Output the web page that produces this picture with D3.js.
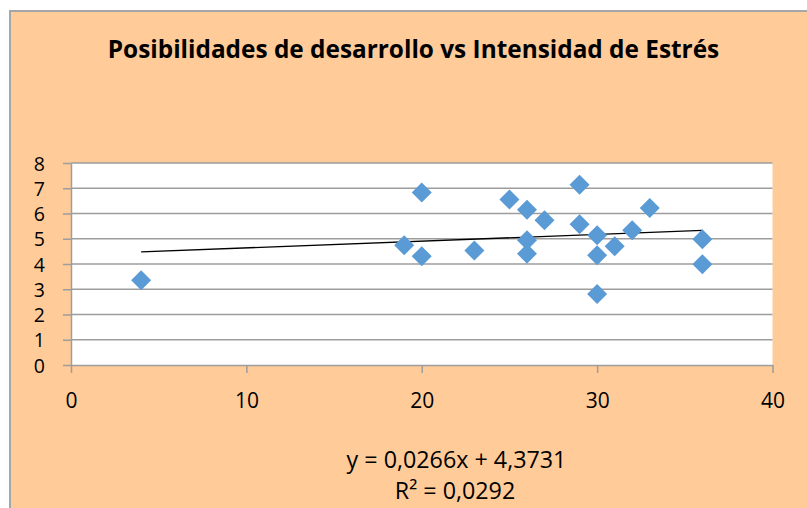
<!DOCTYPE html>
<html>
<head>
<meta charset="utf-8">
<script src="https://cdn.jsdelivr.net/npm/d3@7"></script>
<style>
  html, body { margin: 0; padding: 0; background: #ffffff; }
  svg { display: block; }
  text { font-family: "Open Sans", "Liberation Sans", sans-serif; fill: #000; }
</style>
</head>
<body>
<svg id="chart" width="807" height="508"></svg>
<script>
// ---- data ----
const title = "Posibilidades de desarrollo vs Intensidad de Estrés";
const intensidad = [4, 19, 20, 20, 23, 25, 26, 26, 26, 27, 29, 29, 30, 30, 30, 31, 32, 33, 36, 36];
const posibilidades = [3.36, 4.74, 6.83, 4.31, 4.53, 6.55, 6.15, 4.94, 4.41, 5.73, 7.14, 5.57, 5.14, 4.35, 2.81, 4.70, 5.34, 6.22, 4.98, 3.99];
const xTicks = [0, 10, 20, 30, 40];
const yTicks = [0, 1, 2, 3, 4, 5, 6, 7, 8];
const slope = 0.0266;
const intercept = 4.3731;
const equationText = "y = 0,0266x + 4,3731";
const r2Text = "R² = 0,0292";

const points = intensidad.map((xv, i) => ({ x: xv, y: posibilidades[i] }));

// ---- layout ----
const svg = d3.select("#chart");
const plotLeft = 71, plotRight = 772.5, plotTop = 163, plotBottom = 365;

// chart background and outer border
svg.append("rect")
  .attr("x", 10).attr("y", 11).attr("width", 830).attr("height", 520)
  .attr("fill", "#FFCB99").attr("stroke", "#A6A6A6").attr("stroke-width", 2);

const x = d3.scaleLinear().domain([0, 40]).range([plotLeft, plotRight]);
const y = d3.scaleLinear().domain([0, 8]).range([plotBottom, plotTop]);

// plot area
svg.append("rect")
  .attr("x", plotLeft).attr("y", plotTop).attr("width", plotRight - plotLeft).attr("height", plotBottom - plotTop)
  .attr("fill", "#ffffff");

// gridlines
svg.append("g").selectAll("line").data(yTicks.filter(d => d > 0)).join("line")
  .attr("x1", plotLeft).attr("x2", plotRight)
  .attr("y1", d => y(d)).attr("y2", d => y(d))
  .attr("stroke", "#9D9D9D").attr("stroke-width", 1.5);

// axes
const tickFont = "Liberation Sans";
const yFontSize = 19.5;
const xFontSize = 21;
const yAxis = svg.append("g").attr("transform", `translate(${plotLeft},0)`)
  .call(d3.axisLeft(y).tickValues(yTicks).tickSize(8).tickSizeOuter(0).tickPadding(18).tickFormat(d3.format("d")));
const xAxis = svg.append("g").attr("transform", `translate(0,${plotBottom})`)
  .call(d3.axisBottom(x).tickValues(xTicks).tickSize(8).tickSizeOuter(0).tickFormat(d3.format("d")));

[yAxis, xAxis].forEach(a => {
  a.select(".domain").attr("stroke", "#9D9D9D").attr("stroke-width", 1.5);
  a.selectAll(".tick line").attr("stroke", "#9D9D9D").attr("stroke-width", 1.5);
  a.selectAll("text").attr("font-family", tickFont).attr("fill", "#000");
});
xAxis.selectAll("text").attr("font-size", xFontSize).attr("y", 43).attr("dy", 0);
yAxis.selectAll("text").attr("font-size", yFontSize).attr("dy", "0.36em");

// trendline
const tx0 = d3.min(intensidad), tx1 = d3.max(intensidad);
svg.append("line")
  .attr("x1", x(tx0)).attr("y1", y(slope * tx0 + intercept))
  .attr("x2", x(tx1)).attr("y2", y(slope * tx1 + intercept))
  .attr("stroke", "#000").attr("stroke-width", 1.3);

// markers (diamonds)
const diamond = d3.symbol().type(d3.symbolSquare).size(200);
svg.append("g").selectAll("path").data(points).join("path")
  .attr("d", diamond)
  .attr("transform", d => `translate(${x(d.x)},${y(d.y)}) rotate(45)`)
  .attr("fill", "#5B9BD5");

// title, fitted to reference width
const t = svg.append("text")
  .attr("x", 413.5).attr("y", 58)
  .attr("text-anchor", "middle")
  .attr("font-weight", "bold").attr("font-size", 25)
  .text(title);
const tw = t.node().getComputedTextLength();
t.attr("font-size", 25 * 612 / tw);

// equation labels
const e1 = svg.append("text").attr("x", 456.5).attr("y", 467.5)
  .attr("text-anchor", "middle").attr("font-size", 21.5).text(equationText);
const e1w = e1.node().getComputedTextLength();
e1.attr("font-size", 21.5 * 220 / e1w);
const e2 = svg.append("text").attr("x", 455).attr("y", 499)
  .attr("text-anchor", "middle").attr("font-size", 21.5 * 220 / e1w).text(r2Text);
</script>
</body>
</html>
